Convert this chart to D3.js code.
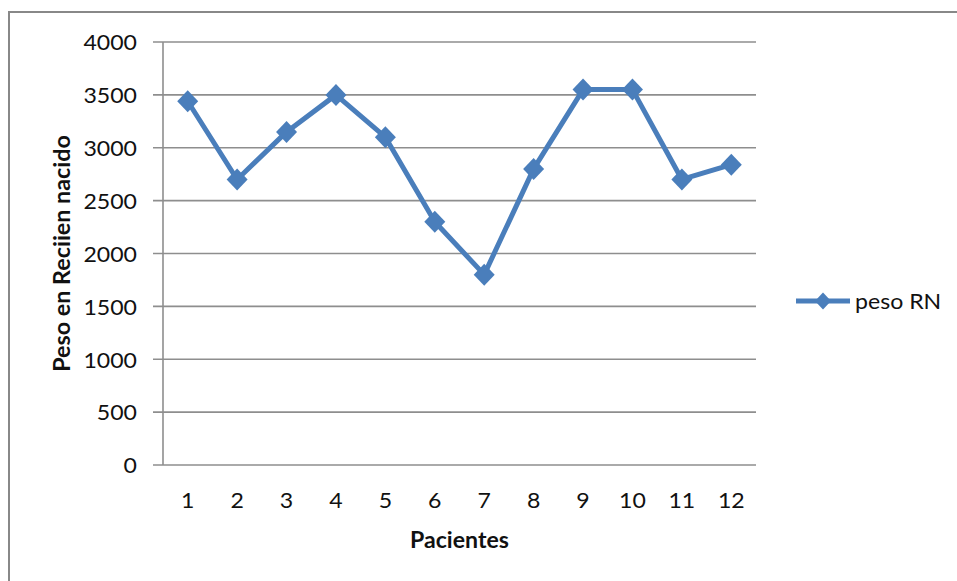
<!DOCTYPE html>
<html>
<head>
<meta charset="utf-8">
<script src="https://cdn.jsdelivr.net/npm/d3@7"></script>
<style>
  html, body { margin: 0; padding: 0; background: #fff; }
  svg { display: block; }
</style>
</head>
<body>
<svg id="chart" width="957" height="581"></svg>
<script>
// Birth weight per patient
const pacientes = ["1","2","3","4","5","6","7","8","9","10","11","12"];
const pesoRN = [3440, 2700, 3150, 3500, 3100, 2300, 1800, 2800, 3550, 3550, 2700, 2840];
const yTicks = [0, 500, 1000, 1500, 2000, 2500, 3000, 3500, 4000];
const seriesName = "peso RN";
const xTitle = "Pacientes";
const yTitle = "Peso en Reciien nacido";

const W = 957, H = 581;
const plot = { left: 163, right: 756, top: 42, bottom: 465 };
const FONT = "Lato, 'Open Sans', sans-serif";
const SX = 1.05;           // horizontal stretch applied to text
const lineColor = "#4A7EBB";
const gridColor = "#8E8E8E";

const svg = d3.select("#chart");

// outer chart frame
svg.append("rect")
  .attr("x", 9).attr("y", 12)
  .attr("width", W + 20).attr("height", H + 20)
  .attr("fill", "#fff").attr("stroke", "#888").attr("stroke-width", 2);

const x = d3.scaleBand().domain(pacientes).range([plot.left, plot.right]);
const y = d3.scaleLinear().domain([0, 4000]).range([plot.bottom, plot.top]);

function label(g, tx, ty, text, opts) {
  return g.append("text")
    .attr("transform", `translate(${tx},${ty}) ${opts.rotate ? "rotate(-90)" : ""} scale(${opts.sx || SX},1)`)
    .attr("text-anchor", opts.anchor || "middle")
    .attr("dominant-baseline", opts.baseline || "auto")
    .attr("font-family", FONT)
    .attr("font-size", opts.size || 22)
    .attr("font-weight", opts.weight || "normal")
    .attr("fill", "#111")
    .text(text);
}

// horizontal gridlines with outside tick stubs
const grid = svg.append("g");
grid.selectAll("line")
  .data(yTicks)
  .join("line")
  .attr("x1", plot.left - 10).attr("x2", plot.right)
  .attr("y1", d => y(d)).attr("y2", d => y(d))
  .attr("stroke", gridColor).attr("stroke-width", 1.6);

// vertical axis line
svg.append("line")
  .attr("x1", plot.left).attr("x2", plot.left)
  .attr("y1", plot.top).attr("y2", plot.bottom)
  .attr("stroke", gridColor).attr("stroke-width", 1.6);

// y tick labels
const yl = svg.append("g");
yTicks.forEach(t => label(yl, 137, y(t), String(t), { anchor: "end", baseline: "central" }));

// x tick labels
const xl = svg.append("g");
pacientes.forEach(p => label(xl, x(p) + x.bandwidth() / 2, 508, p, {}));

// axis titles
label(svg, (plot.left + plot.right) / 2, 548, xTitle, { weight: "bold", size: 22 });
label(svg, 70, (plot.top + plot.bottom) / 2, yTitle, { weight: "bold", size: 22, sx: 1.06, rotate: true });

// series line
const line = d3.line()
  .x((d, i) => x(pacientes[i]) + x.bandwidth() / 2)
  .y(d => y(d));

svg.append("path")
  .datum(pesoRN)
  .attr("d", line)
  .attr("fill", "none")
  .attr("stroke", lineColor)
  .attr("stroke-width", 5)
  .attr("stroke-linejoin", "round");

function diamond(hw, hh) {
  return `M0,${-hh}L${hw},0L0,${hh}L${-hw},0Z`;
}

svg.append("g").selectAll("path")
  .data(pesoRN)
  .join("path")
  .attr("transform", (d, i) => `translate(${x(pacientes[i]) + x.bandwidth() / 2},${y(d)})`)
  .attr("d", diamond(10.5, 11))
  .attr("fill", lineColor);

// legend
const lg = svg.append("g").attr("transform", "translate(796,301)");
lg.append("line").attr("x1", 0).attr("x2", 54).attr("y1", 0).attr("y2", 0)
  .attr("stroke", lineColor).attr("stroke-width", 5);
lg.append("path").attr("transform", "translate(27,0)").attr("d", diamond(8, 8.5)).attr("fill", lineColor);
label(lg, 59, 0, seriesName, { anchor: "start", baseline: "central" });
</script>
</body>
</html>
